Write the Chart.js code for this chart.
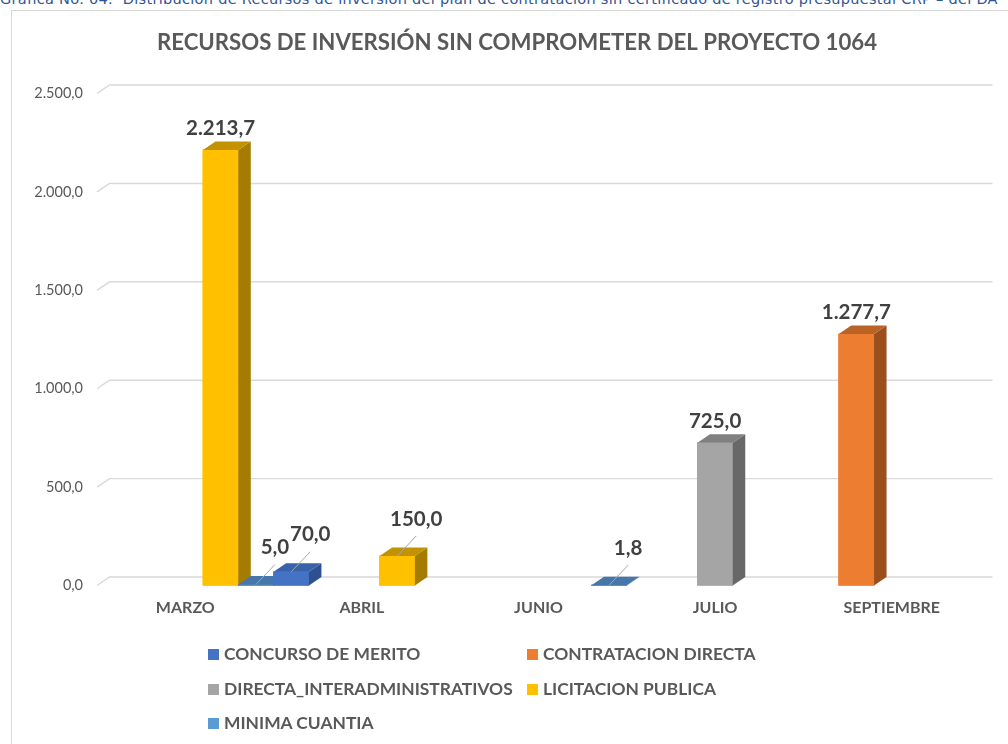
<!DOCTYPE html>
<html><head><meta charset="utf-8">
<script src="https://cdn.jsdelivr.net/npm/chart.js@4.4.1/dist/chart.umd.min.js"></script>
<style>
html,body{margin:0;padding:0;width:1008px;height:744px;overflow:hidden;background:#fff;}
#caption{position:absolute;left:0;top:-8px;white-space:nowrap;font-family:"DejaVu Sans";font-size:14.5px;letter-spacing:0.3px;line-height:14px;color:#2f5496;}
#frame{position:absolute;left:11px;top:10px;width:1040px;height:800px;border:1px solid #d9d9d9;box-sizing:border-box;}
#c{position:absolute;left:0;top:0;}
#legend{position:absolute;left:208px;top:637px;display:grid;grid-template-columns:319px auto;font-family:Lato;font-weight:bold;font-size:17.4px;color:#595959;}
#legend .it{height:34.5px;line-height:34.5px;white-space:nowrap;}
#legend .sw{display:inline-block;width:11px;height:11px;margin-right:5px;vertical-align:middle;position:relative;top:-1px;}
</style></head>
<body>
<div id="caption">Gráfica No. 04.&nbsp; Distribución de Recursos de inversión del plan de contratación sin certificado de registro presupuestal CRP – del DA</div>
<div id="frame"></div>
<canvas id="c" width="1008" height="744"></canvas>
<div id="legend"></div>
<script>
const categories = ['MARZO', 'ABRIL', 'JUNIO', 'JULIO', 'SEPTIEMBRE'];
const seriesNames = ['CONCURSO DE MERITO', 'CONTRATACION DIRECTA', 'DIRECTA_INTERADMINISTRATIVOS', 'LICITACION PUBLICA', 'MINIMA CUANTIA'];
const concursoMerito      = [null, 70.0, null, null, null];
const contratacionDirecta = [null, null, null, null, 1277.7];
const directaInter        = [null, null, null, 725.0, null];
const licitacionPublica   = [2213.7, 150.0, null, null, null];
const minimaCuantia       = [5.0, null, 1.8, null, null];
const yTicks = [0, 500, 1000, 1500, 2000, 2500];
const chartTitle = 'RECURSOS DE INVERSIÓN SIN COMPROMETER DEL PROYECTO 1064';

const seriesData = [concursoMerito, contratacionDirecta, directaInter, licitacionPublica, minimaCuantia];
const faceColors = ['#4472c4', '#ed7d31', '#a5a5a5', '#ffc000', '#4a80b6'];
const legendColors = ['#4472c4', '#ed7d31', '#a5a5a5', '#ffc000', '#5b9bd5'];
const topColors  = ['#3a62ab', '#bb6226', '#808080', '#c29200', '#4677a8'];
const sideColors = ['#2e5090', '#9b4f1c', '#686868', '#a57b00', '#355f8a'];
const DX = 12.5, DY = -8.5;

function fmt(v) {
  const s = Number(v).toFixed(1);
  let [i, d] = s.split('.');
  i = i.replace(/\B(?=(\d{3})+(?!\d))/g, '.');
  return i + ',' + d;
}

const bar3d = {
  id: 'bar3d',
  afterLayout(chart) {
    // let the y tick labels extend left of the axis box without being clipped
    chart.scales.y.left = 15;
  },
  beforeDatasetsDraw(chart) {
    const {ctx, chartArea: a, scales: {y}} = chart;
    ctx.save();
    ctx.strokeStyle = '#d9d9d9';
    ctx.lineWidth = 1.4;
    y.ticks.forEach(t => {
      const py = y.getPixelForValue(t.value);
      ctx.beginPath();
      ctx.moveTo(a.left, py);
      ctx.lineTo(a.left + DX, py + DY);
      ctx.lineTo(a.right + DX, py + DY);
      ctx.stroke();
    });
    ctx.restore();
  },
  afterDatasetsDraw(chart) {
    const ctx = chart.ctx;
    const items = [];
    chart.data.datasets.forEach((ds, di) => {
      const meta = chart.getDatasetMeta(di);
      meta.data.forEach((el, i) => {
        if (ds.data[i] == null) return;
        items.push({el, di, v: ds.data[i]});
      });
    });
    items.sort((p, q) => p.el.x - q.el.x);
    ctx.save();
    items.forEach(({el, di}) => {
      const {x, y, base, width} = el.getProps(['x', 'y', 'base', 'width'], true);
      const l = x - width / 2, r = x + width / 2;
      el.draw(ctx);
      ctx.fillStyle = sideColors[di];
      ctx.beginPath();
      ctx.moveTo(r, y); ctx.lineTo(r + DX, y + DY); ctx.lineTo(r + DX, base + DY); ctx.lineTo(r, base);
      ctx.closePath(); ctx.fill();
      ctx.fillStyle = topColors[di];
      ctx.beginPath();
      ctx.moveTo(l, y); ctx.lineTo(l + DX, y + DY); ctx.lineTo(r + DX, y + DY); ctx.lineTo(r, y);
      ctx.closePath(); ctx.fill();
    });
    ctx.font = 'bold 20.5px Lato';
    ctx.fillStyle = '#404040';
    ctx.textAlign = 'center';
    ctx.textBaseline = 'middle';
    items.forEach(({el, v}) => {
      const {x, y} = el.getProps(['x', 'y'], true);
      if (v < 200) {
        ctx.strokeStyle = '#a6a6a6';
        ctx.lineWidth = 1;
        ctx.beginPath();
        ctx.moveTo(x, y);
        ctx.lineTo(x + 19, y - 20);
        ctx.stroke();
        ctx.fillText(fmt(v), x + 19, y - 37);
      } else {
        ctx.fillText(fmt(v), x, y + DY - 13);
      }
    });
    ctx.restore();
  }
};

const chart = new Chart(document.getElementById('c'), {
  type: 'bar',
  data: {
    labels: categories,
    datasets: seriesNames.map((n, i) => ({
      label: n,
      data: seriesData[i],
      backgroundColor: faceColors[i],
      borderWidth: 0,
      categoryPercentage: 1,
      barPercentage: 1
    }))
  },
  options: {
    responsive: false,
    animation: false,
    layout: {padding: {left: 54, right: 28, top: 0, bottom: 118.5}},
    plugins: {
      legend: {display: false},
      tooltip: {enabled: false},
      title: {
        display: true, text: chartTitle, color: '#595959',
        font: {family: 'Lato', size: 22.2, weight: 'bold'},
        padding: {top: 29.5, bottom: 37.4}
      }
    },
    scales: {
      x: {
        grid: {display: false, drawTicks: false},
        border: {display: false},
        ticks: {color: '#595959', font: {family: 'Lato', size: 16, weight: 'bold'}, padding: 13, maxRotation: 0},
        afterFit(s) { s.height = 40; }
      },
      y: {
        min: 0, max: 2500,
        grid: {display: false, drawTicks: false},
        border: {display: false},
        afterBuildTicks(s) { s.ticks = yTicks.map(v => ({value: v})); },
        ticks: {color: '#595959', font: {family: 'Lato', size: 14.5}, padding: 14, callback: v => fmt(v)},
        afterFit(s) { s.width = 43; }
      }
    }
  },
  plugins: [bar3d]
});

const leg = document.getElementById('legend');
chart.data.datasets.forEach((ds, i) => {
  const d = document.createElement('div');
  d.className = 'it';
  const sw = document.createElement('span');
  sw.className = 'sw';
  sw.style.background = legendColors[i];
  d.appendChild(sw);
  d.appendChild(document.createTextNode(ds.label));
  leg.appendChild(d);
});
</script>
</body></html>
